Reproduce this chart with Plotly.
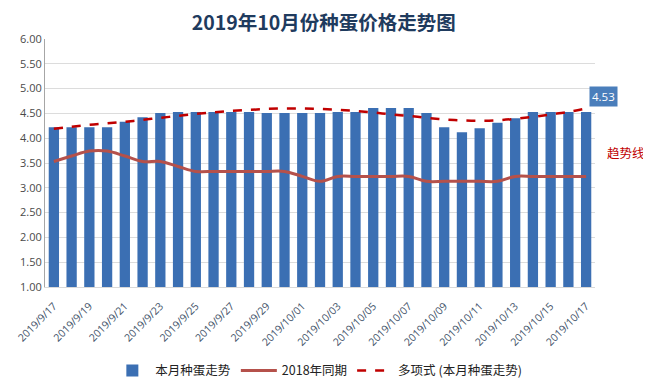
import plotly.graph_objects as go

dates = (["2019/9/%d" % d for d in range(17, 31)] +
         ["2019/10/%02d" % d for d in range(1, 18)])
this_month = [4.22, 4.22, 4.22, 4.22, 4.33, 4.42, 4.51, 4.53, 4.53, 4.53,
              4.53, 4.53, 4.51, 4.51, 4.51, 4.51, 4.53, 4.53, 4.61, 4.61,
              4.61, 4.51, 4.22, 4.12, 4.20, 4.31, 4.40, 4.53, 4.53, 4.53, 4.53]
last_year = [3.53, 3.64, 3.74, 3.74, 3.64, 3.53, 3.53, 3.43, 3.33, 3.33,
             3.33, 3.33, 3.33, 3.33, 3.23, 3.13, 3.23, 3.23, 3.23, 3.23,
             3.23, 3.13, 3.13, 3.13, 3.13, 3.13, 3.23, 3.23, 3.23, 3.23, 3.23]
trend = [4.19, 4.23, 4.27, 4.30, 4.33, 4.37, 4.41, 4.45, 4.49, 4.52,
         4.55, 4.57, 4.59, 4.60, 4.60, 4.59, 4.57, 4.55, 4.52, 4.48,
         4.45, 4.41, 4.38, 4.36, 4.35, 4.36, 4.39, 4.43, 4.48, 4.53, 4.60]
yticks = [1.0, 1.5, 2.0, 2.5, 3.0, 3.5, 4.0, 4.5, 5.0, 5.5, 6.0]
xticks = dates[::2]

cjk = "Noto Sans CJK SC"

fig = go.Figure()
fig.add_trace(go.Bar(x=dates, y=this_month, name="本月种蛋走势",
                     marker=dict(color="#3b6fb3", line=dict(width=0)),
                     width=0.58))
fig.add_trace(go.Scatter(x=dates, y=last_year, name="2018年同期", mode="lines",
                         line=dict(color="#b5514b", width=3, shape="spline")))
fig.add_trace(go.Scatter(x=dates, y=trend, name="多项式 (本月种蛋走势)", mode="lines",
                         line=dict(color="#c00000", width=2.5, dash="dash", shape="spline")))

fig.add_annotation(x=dates[-1], y=this_month[-1], text="%.2f" % this_month[-1],
                   showarrow=False, xshift=17, yshift=15,
                   bgcolor="#4a7ebb", font=dict(color="white", size=11.5, family="Open Sans"),
                   borderpad=2)
fig.add_annotation(xref="paper", yref="paper", x=1.0945, y=0.544, text="趋势线",
                   showarrow=False, font=dict(color="#c00000", size=12.5, family=cjk))

fig.update_layout(
    width=643, height=381,
    margin=dict(l=37, r=56, t=31, b=102, autoexpand=False),
    paper_bgcolor="white", plot_bgcolor="white",
    title=dict(text="<b>2019年10月份种蛋价格走势图</b>", x=0.491, xanchor="center",
               y=0.959, yanchor="middle",
               font=dict(family=cjk, size=19.5, color="#1f3b5e")),
    showlegend=True,
    legend=dict(orientation="h", x=0.497, xanchor="center", y=-0.338, yanchor="middle",
                font=dict(family=cjk, size=12.5, color="#222222"), itemwidth=36,
                tracegroupgap=0),
)
fig.update_xaxes(type="category", tickmode="array", tickvals=xticks, ticktext=xticks,
                 tickangle=-45, range=[-0.5, 30.5], automargin=False,
                 tickfont=dict(family="Open Sans", size=10.5, color="#44546a"),
                 showgrid=False, showline=True, linecolor="#d9d9d9",
                 ticks="outside", ticklen=8, tickcolor="rgba(0,0,0,0)")
fig.update_yaxes(range=[1, 6], tickmode="array", tickvals=yticks,
                 ticktext=["%.2f" % v for v in yticks], automargin=False,
                 tickfont=dict(family="Open Sans", size=11, color="#4a4a4a"),
                 showgrid=True, gridcolor="#dcdcdc", gridwidth=1,
                 showline=True, linecolor="#a6a6a6", zeroline=False, ticks="")

fig.write_html("out.html")
